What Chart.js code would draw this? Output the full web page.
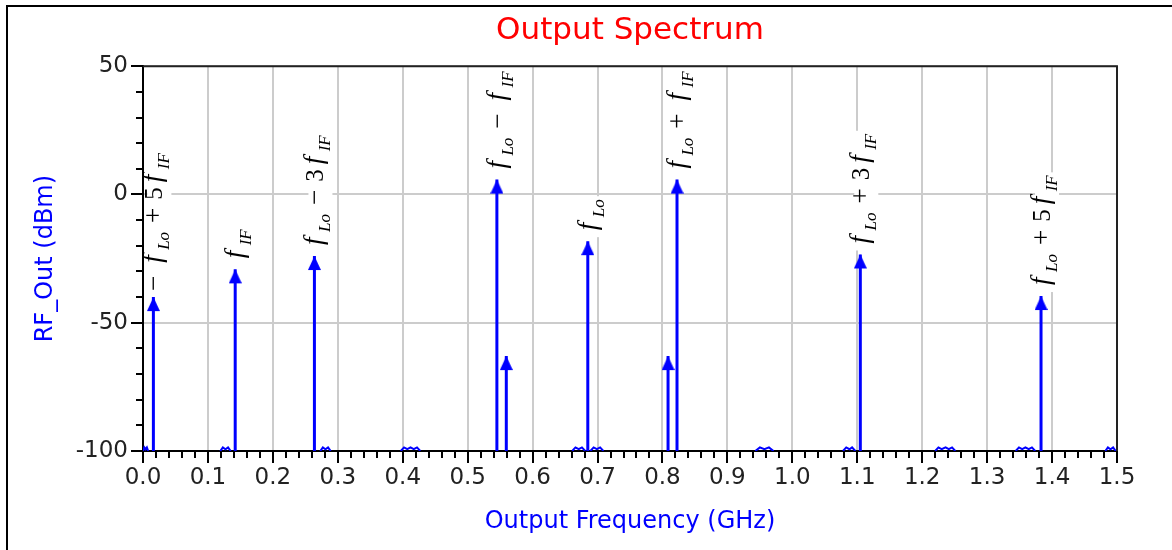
<!DOCTYPE html>
<html><head><meta charset="utf-8">
<script src="https://cdn.jsdelivr.net/npm/chart.js@4.4.0/dist/chart.umd.min.js"></script>
<style>
html,body{margin:0;padding:0;background:#fff;}
#wrap{position:relative;width:1172px;height:550px;overflow:hidden;background:#fff;}
#frame{position:absolute;left:6px;top:5px;right:-4px;bottom:-4px;border-left:2px solid #000;border-top:2px solid #000;pointer-events:none;}
canvas{position:absolute;left:0;top:0;}
</style></head><body>
<div id="wrap"><canvas id="c" width="1172" height="550"></canvas><div id="frame"></div></div>
<script>
// ---- data ----
const peakFreqGHz  = [0.016, 0.142, 0.264, 0.545, 0.5595, 0.685, 0.8086, 0.8224, 1.1047, 1.383];
const peakLevelDbm = [-40, -29.2, -24, 5.8, -63, -18.2, -63, 5.8, -23.4, -39.6];
const peakLabels   = ["−f{Lo}+5f{IF}", "f{IF}", "f{Lo}−3f{IF}", "f{Lo}−f{IF}", "", "f{Lo}", "", "f{Lo}+f{IF}", "f{Lo}+3f{IF}", "f{Lo}+5f{IF}"];

const floorFreqGHz = [
  0.000,0.002,0.004,0.006,0.008,null,
  0.119,0.123,0.127,0.131,0.135,null,
  0.273,0.277,0.281,0.285,0.289,null,
  0.397,0.402,0.407,0.412,0.417,0.422,0.427,null,
  0.661,0.666,0.671,0.676,0.681,null,
  0.689,0.694,0.699,0.704,0.709,null,
  0.943,0.950,0.957,0.964,0.971,null,
  1.078,1.083,1.088,1.092,1.097,null,
  1.220,1.225,1.230,1.236,1.241,1.246,1.251,null,
  1.344,1.349,1.354,1.359,1.364,1.369,1.374,null,
  1.482,1.486,1.490,1.494,1.498
];
const floorLevelDbm = [
  -100,-98.6,-99.3,-98.6,-100,null,
  -100,-98.6,-99.3,-98.6,-100,null,
  -100,-98.6,-99.3,-98.6,-100,null,
  -100,-98.6,-99.3,-98.6,-99.3,-98.6,-100,null,
  -100,-98.6,-99.3,-98.6,-100,null,
  -100,-98.6,-99.3,-98.6,-100,null,
  -100,-98.6,-99.3,-98.6,-100,null,
  -100,-98.6,-99.3,-98.6,-100,null,
  -100,-98.6,-99.3,-98.6,-99.3,-98.6,-100,null,
  -100,-98.6,-99.3,-98.6,-99.3,-98.6,-100,null,
  -100,-98.6,-99.3,-98.6,-100
];

const xTickLabels = ['0.0','0.1','0.2','0.3','0.4','0.5','0.6','0.7','0.8','0.9','1.0','1.1','1.2','1.3','1.4','1.5'];
const yTickLabels = ['-100','-50','0','50'];

const chartTitle = 'Output Spectrum';
const xTitle = 'Output Frequency (GHz)';
const yTitle = 'RF_Out (dBm)';

// ---- helpers ----
const SANS = "'DejaVu Sans', sans-serif";
const SERIF = "'Liberation Serif', 'DejaVu Serif', serif";
const isMajorX = v => Math.round(v * 50) % 5 === 0;
const isMajorY = v => Math.round(v) % 50 === 0;

// arrow head image: tip at centre of the canvas
const head = document.createElement('canvas');
head.width = 13; head.height = 30;
(() => { const h = head.getContext('2d'); h.fillStyle = '#0000ff'; h.beginPath();
  h.moveTo(6.5, 15); h.lineTo(13, 29); h.lineTo(0, 29); h.closePath(); h.fill(); })();

function parseLabel(s) {
  const out = [];
  for (let i = 0; i < s.length; i++) {
    const ch = s[i];
    if (ch === '{') { const j = s.indexOf('}', i); out.push({k:'sub', t:s.slice(i+1, j)}); i = j; }
    else if (ch === 'f') out.push({k:'f', t:'f'});
    else if (ch === '+' || ch === '−') out.push({k:'op', t:ch});
    else out.push({k:'num', t:ch});
  }
  return out;
}
const FONTS = {
  f: 'italic 27px ' + SERIF,
  sub: 'italic 17px ' + SERIF,
  op: '27px ' + SERIF,
  num: '25px ' + SERIF
};
const SHIFT = 4; // text sits a little to the right of the stem

const labelPlugin = {
  id: 'peakLabels',
  afterDatasetsDraw(chart) {
    const ctx = chart.ctx, xs = chart.scales.x, ys = chart.scales.y, a = chart.chartArea;
    peakLabels.forEach((lab, i) => {
      if (!lab) return;
      const px = xs.getPixelForValue(peakFreqGHz[i]);
      const py = ys.getPixelForValue(peakLevelDbm[i]);
      const pieces = parseLabel(lab);
      let cur = 0; const placed = [];
      pieces.forEach((p, idx) => {
        ctx.font = FONTS[p.k];
        const w = ctx.measureText(p.t).width;
        if (p.k === 'f') { placed.push({p, x: cur + 5}); cur += 19; }
        else if (p.k === 'sub') { placed.push({p, x: cur - 1}); cur += w; }
        else if (p.k === 'op') { if (idx > 0) cur += 8; placed.push({p, x: cur}); cur += w + 8; }
        else { placed.push({p, x: cur}); cur += w; }
      });

      // white backing box, kept inside the plot area
      ctx.save();
      ctx.beginPath();
      ctx.rect(a.left + 1, a.top + 1, a.right - a.left - 2, a.bottom - a.top - 2);
      ctx.clip();
      ctx.translate(px, py - 6);
      ctx.rotate(-Math.PI / 2);
      ctx.fillStyle = '#ffffff';
      ctx.fillRect(-2, -10 + SHIFT, cur + 4, 24);
      ctx.restore();

      // text
      ctx.save();
      ctx.translate(px, py - 6);
      ctx.rotate(-Math.PI / 2);
      ctx.fillStyle = '#000000';
      ctx.textBaseline = 'alphabetic';
      ctx.textAlign = 'left';
      placed.forEach(({p, x}) => {
        ctx.font = FONTS[p.k];
        const y = (p.k === 'sub' ? 12 : (p.k === 'f' ? 4 : 5)) + SHIFT;
        ctx.fillText(p.t, x, y);
      });
      ctx.restore();
    });
  }
};

const framePlugin = {
  id: 'plotFrame',
  afterDatasetsDraw(chart) {
    const {ctx, chartArea: a} = chart;
    ctx.save();
    ctx.strokeStyle = '#222';
    ctx.lineWidth = 2;
    ctx.beginPath();
    ctx.moveTo(a.left, a.top);
    ctx.lineTo(a.right, a.top);
    ctx.lineTo(a.right, a.bottom);
    ctx.stroke();
    ctx.restore();
  }
};

const stemData = peakFreqGHz.map((f, i) => ({x: f, y: [-100, peakLevelDbm[i]]}));
const headData = peakFreqGHz.map((f, i) => ({x: f, y: peakLevelDbm[i]}));
const floorData = floorFreqGHz.map((f, i) => ({x: f, y: floorLevelDbm[i]}));

new Chart(document.getElementById('c'), {
  type: 'scatter',
  data: {
    datasets: [
      { type: 'scatter', data: headData, pointStyle: head, pointRadius: 6, pointHoverRadius: 6, showLine: false },
      { type: 'bar', data: stemData, backgroundColor: '#0000ff', borderWidth: 0, barThickness: 3, grouped: false, inflateAmount: 0 },
      { type: 'scatter', data: floorData, showLine: true, spanGaps: false, borderColor: '#0000ff', borderWidth: 2, pointRadius: 0, pointHoverRadius: 0 }
    ]
  },
  options: {
    responsive: false,
    animation: false,
    events: [],
    layout: { padding: { left: 0, right: 55, top: 0, bottom: 0 } },
    plugins: {
      legend: { display: false },
      tooltip: { enabled: false },
      title: {
        display: true, text: chartTitle, color: '#ff0000', fullSize: false,
        font: { family: SANS, size: 31, weight: 'normal' },
        padding: { top: 12, bottom: 17 }
      }
    },
    scales: {
      x: {
        type: 'linear', min: 0, max: 1.5, offset: false,
        afterFit: s => { s.height = 99; },
        ticks: {
          stepSize: 0.02, autoSkip: false, maxRotation: 0, minRotation: 0, padding: 1,
          color: '#222', font: { family: SANS, size: 23 },
          callback: v => isMajorX(v) ? xTickLabels[Math.round(v * 10)] : ''
        },
        grid: {
          offset: false, lineWidth: 2, tickLength: 12, tickWidth: 2, tickColor: '#000',
          color: c => (c.tick && isMajorX(c.tick.value)) ? '#cccccc' : 'rgba(0,0,0,0)',
          tickBorderDash: c => (c.tick && isMajorX(c.tick.value)) ? [] : [6, 40]
        },
        border: { display: true, color: '#000', width: 2 },
        title: { display: true, text: xTitle, color: '#0000ff', font: { family: SANS, size: 24 }, padding: { top: 0, bottom: 14 } }
      },
      y: {
        type: 'linear', min: -100, max: 50,
        afterFit: s => { s.width = 143; },
        ticks: {
          stepSize: 10, autoSkip: false, padding: 3,
          color: '#222', font: { family: SANS, size: 23 },
          callback: v => isMajorY(v) ? yTickLabels[Math.round((v + 100) / 50)] : ''
        },
        grid: {
          lineWidth: 2, tickLength: 12, tickWidth: 2, tickColor: '#000',
          color: c => (c.tick && isMajorY(c.tick.value)) ? '#cccccc' : 'rgba(0,0,0,0)',
          tickBorderDash: c => (c.tick && isMajorY(c.tick.value)) ? [] : [0, 5, 6, 40]
        },
        border: { display: true, color: '#000', width: 2 },
        title: { display: true, text: yTitle, color: '#0000ff', font: { family: SANS, size: 24 }, padding: { top: 31, bottom: 0 } }
      }
    }
  },
  plugins: [labelPlugin, framePlugin]
});
</script>
</body></html>
